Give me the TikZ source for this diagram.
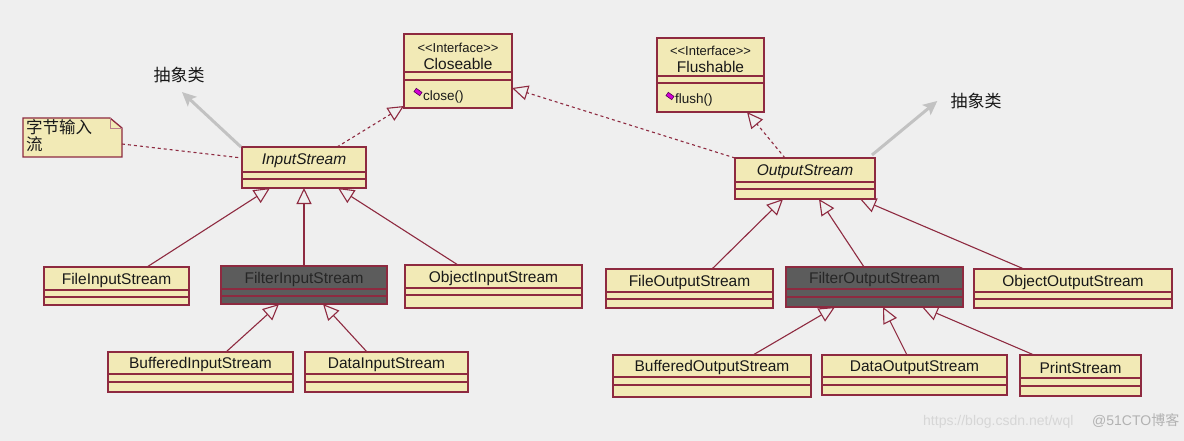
\documentclass[tikz,border=0pt]{standalone}
\usepackage{fontspec}
\setmainfont{Liberation Sans}
\newfontfamily\cjk{Noto Sans CJK SC}
\usetikzlibrary{arrows.meta,fit,calc}
\definecolor{bg}{HTML}{EFEFEF}
\definecolor{umlfill}{HTML}{F2EAB6}
\definecolor{umlline}{HTML}{8E2A40}
\definecolor{darkfill}{HTML}{5C5C5C}
\definecolor{darktext}{HTML}{262626}
\definecolor{hint}{HTML}{C2C2C2}
\definecolor{wm}{HTML}{D6D6D6}
\definecolor{iconfill}{HTML}{D400D4}
\tikzset{
  x=1pt, y=-1pt,
  lightbox/.style={draw=umlline, fill=umlfill, line width=1.4pt, inner sep=0pt, outer sep=0pt},
  italbox/.style={lightbox},
  darkbox/.style={draw=umlline, fill=darkfill, line width=1.4pt, inner sep=0pt, outer sep=0pt},
  lighttxt/.style={font=\fontsize{15.5}{18}\selectfont, text=black!90, inner sep=0pt},
  italtxt/.style={font=\fontsize{15.5}{18}\selectfont\itshape, text=black!90, inner sep=0pt},
  darktxt/.style={font=\fontsize{15.5}{18}\selectfont, text=darktext, inner sep=0pt},
  stereo/.style={font=\fontsize{13}{14}\selectfont, text=black!90, inner sep=0pt},
  method/.style={font=\fontsize{13.5}{16}\selectfont, text=black!90, inner sep=0pt, anchor=west},
  icon/.style={draw=black!60!iconfill, fill=iconfill, line width=0.6pt, minimum width=7pt, minimum height=4pt, inner sep=0pt, rotate=-35},
  sepline/.style={draw=umlline, line width=1.1pt},
  gen/.style={draw=umlline, line width=1.1pt, -{Triangle[open, length=16pt, width=15pt, line width=1.1pt]}},
  real/.style={gen, dash pattern=on 3pt off 3pt},
  notelink/.style={draw=umlline, line width=1.1pt, dash pattern=on 3pt off 3pt},
  hintarrow/.style={draw=hint, line width=3pt, -{Stealth[length=14pt, width=13pt, inset=3pt]}},
  cjklabel/.style={font=\cjk\fontsize{17}{20}\selectfont, text=black!90, inner sep=0pt},
  wmtxt/.style={font=\fontsize{14}{16}\selectfont, text=wm, inner sep=0pt, anchor=west},
}
\newcommand{\umlcls}[9]{%
  \node[#8box, fit={(#2,#3) (#4,#5)}] (#1) {};
  \draw[sepline] (#2,#6) -- (#4,#6) (#2,#7) -- (#4,#7);
  \node[#8txt] (#1-t) at ({(#2+#4)/2},{(#3+#6)/2+1.5}) {#9};
}
\newcommand{\stereotxt}{<\kern0pt<\kern0pt Interface\kern0pt>\kern0pt>}
\begin{document}
\begin{tikzpicture}
\useasboundingbox[fill=bg] (0,0) rectangle (1184,441);

% interfaces
\node[lightbox, fit={(404,34) (512,108)}] (cl) {};
\draw[sepline] (404,72) -- (512,72) (404,80) -- (512,80);
\node[stereo] (cl-s) at (458,47.5) {\stereotxt};
\node[lighttxt] (cl-t) at (458,64) {Closeable};
\node[icon] (cl-i) at (418,92) {};
\node[method] (cl-m) at (423,97) {close()};

\node[lightbox, fit={(657,38) (764,112)}] (fl) {};
\draw[sepline] (657,76) -- (764,76) (657,83) -- (764,83);
\node[stereo] (fl-s) at (710.5,50.5) {\stereotxt};
\node[lighttxt] (fl-t) at (710.5,67) {Flushable};
\node[icon] (fl-i) at (670,96) {};
\node[method] (fl-m) at (675,100) {flush()};

% abstract classes
\umlcls{inp}{242}{147}{366}{188}{172}{179}{ital}{InputStream}
\umlcls{out}{735}{158}{875}{199}{182}{189}{ital}{OutputStream}

% input side
\umlcls{fis}{44}{267}{189}{305}{290}{297}{light}{FileInputStream}
\umlcls{filt}{221}{266}{387}{304}{289}{296}{dark}{FilterInputStream}
\umlcls{ois}{405}{265}{582}{308}{288}{295}{light}{ObjectInputStream}
\umlcls{bis}{108}{352}{293}{392}{374}{382}{light}{BufferedInputStream}
\umlcls{dis}{305}{352}{468}{392}{374}{382}{light}{DataInputStream}

% output side
\umlcls{fos}{606}{269}{773}{308}{292}{299}{light}{FileOutputStream}
\umlcls{filto}{786}{267}{963}{307}{289}{297}{dark}{FilterOutputStream}
\umlcls{oos}{974}{269}{1172}{308}{292}{299}{light}{ObjectOutputStream}
\umlcls{bos}{613}{355}{811}{397}{377}{385}{light}{BufferedOutputStream}
\umlcls{dos}{822}{355}{1007}{395}{377}{385}{light}{DataOutputStream}
\umlcls{ps}{1020}{355}{1141}{396}{378}{386}{light}{PrintStream}

% note
\node[inner sep=0pt, outer sep=0pt, fit={(23,118) (122,157)}] (note) {};
\draw[draw=umlline, fill=umlfill, line width=1.3pt]
  (note.north west) -- ([xshift=-12pt]note.north east) -- ([yshift=-10pt]note.north east)
  -- (note.south east) -- (note.south west) -- cycle;
\draw[draw=umlline!60, line width=0.6pt]
  ([xshift=-12pt]note.north east) -- ([xshift=-12pt,yshift=-10pt]note.north east) -- ([yshift=-10pt]note.north east);
\node[cjklabel, anchor=north west, align=left, font=\cjk\fontsize{16.5}{17}\selectfont] (note-t) at (26,119) {字节输入\\流};

% labels
\node[cjklabel] (abs1) at (179,75) {抽象类};
\node[cjklabel] (abs2) at (976,101) {抽象类};

% hint arrows
\draw[hintarrow] ([xshift=-1pt]inp.north west) -- ([shift={(3pt,-9pt)}]abs1.south);
\draw[hintarrow] ([xshift=-3pt,yshift=3pt]out.north east) -- ([xshift=-13pt]abs2.west);

% note link
\draw[notelink] ([yshift=-6.5pt]note.east) -- ([yshift=9.5pt]inp.west);

% realizations
\draw[real] ([xshift=33pt]inp.north) -- ([yshift=2pt]cl.south west);
\draw[real] (out.north west) -- ([yshift=-17pt]cl.east);
\draw[real] ([xshift=-20pt]out.north) -- ([xshift=36.5pt]fl.south);

% generalizations, input
\draw[gen] ([xshift=30.5pt]fis.north) -- ([xshift=-34pt]inp.south);
\draw[gen] (filt.north) -- (inp.south);
\draw[gen] ([xshift=-35.5pt]ois.north) -- ([xshift=34pt]inp.south);
\draw[gen] ([xshift=25.5pt]bis.north) -- ([xshift=-25pt]filt.south);
\draw[gen] ([xshift=-19.5pt]dis.north) -- ([xshift=19pt]filt.south);

% generalizations, output
\draw[gen] ([xshift=22.5pt]fos.north) -- ([xshift=-22pt]out.south);
\draw[gen] ([xshift=-10.5pt]filto.north) -- ([xshift=14pt]out.south);
\draw[gen] ([xshift=-49pt]oos.north) -- ([xshift=55pt]out.south);
\draw[gen] ([xshift=41pt]bos.north) -- ([xshift=-39.5pt]filto.south);
\draw[gen] ([xshift=-7.5pt]dos.north) -- ([xshift=8.5pt]filto.south);
\draw[gen] ([xshift=-46.5pt]ps.north) -- ([xshift=47.5pt]filto.south);

% watermark
\node[wmtxt] (wm1) at (923,422) {https://blog.csdn.net/wql};
\node[wmtxt, text=black!30] (wm2) at (1092,421) {@51CTO{\cjk 博客}};
\end{tikzpicture}
\end{document}
